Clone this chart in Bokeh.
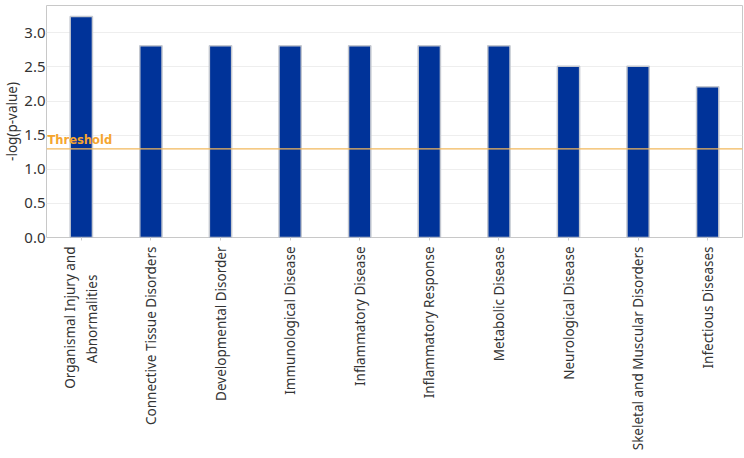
from bokeh.plotting import figure
from bokeh.models import ColumnDataSource, Span, Label, SingleIntervalTicker, Range1d, PrintfTickFormatter
from bokeh.embed import file_html
from bokeh.resources import INLINE

categories = [
    "Organismal Injury and\nAbnormalities" + "\u00a0" * 8,
    "Connective Tissue Disorders",
    "Developmental Disorder",
    "Immunological Disease",
    "Inflammatory Disease",
    "Inflammatory Response",
    "Metabolic Disease",
    "Neurological Disease",
    "Skeletal and Muscular Disorders",
    "Infectious Diseases",
]
values = [3.24, 2.81, 2.81, 2.81, 2.81, 2.81, 2.81, 2.51, 2.51, 2.21]
threshold = 1.3

FONT = "Noto Sans"

src = ColumnDataSource(dict(cat=categories, val=values))

p = figure(
    x_range=categories,
    y_range=Range1d(0, 3.4),
    frame_width=696, frame_height=232,
    output_backend="svg", toolbar_location=None,
    min_border_left=0, min_border_right=3, min_border_top=5, min_border_bottom=0,
    background_fill_color="white", border_fill_color="white",
)
p.vbar(x="cat", top="val", width=0.32, source=src,
       fill_color="#003399", line_color="#c4c8d0", line_width=1.5)

p.add_layout(Span(location=threshold, dimension="width", line_color="#f2b85c", line_width=1.2))
p.add_layout(Label(x=0, y=threshold, x_units="screen", y_units="data", x_offset=1, y_offset=2,
                   text="Threshold", text_color="#f5a52f", text_font_size="11.5px",
                   text_font_style="bold", text_font="DejaVu Sans"))

p.outline_line_color = "#c8c8c8"
p.outline_line_width = 1

p.yaxis.ticker = SingleIntervalTicker(interval=0.5)
p.yaxis.formatter = PrintfTickFormatter(format="%.1f")
p.yaxis.axis_label = "-log(p-value)"
p.yaxis.axis_label_text_font = FONT
p.yaxis.axis_label_text_font_style = "normal"
p.yaxis.axis_label_text_font_size = "13.5px"
p.yaxis.axis_label_text_color = "#333333"
p.yaxis.axis_label_standoff = 0
p.yaxis.major_label_text_font = FONT
p.yaxis.major_label_text_font_size = "15px"
p.yaxis.major_label_text_color = "#333333"
p.yaxis.major_tick_line_color = None
p.yaxis.minor_tick_line_color = None
p.yaxis.major_tick_out = 0
p.yaxis.major_tick_in = 0
p.yaxis.minor_tick_out = 0
p.yaxis.axis_line_color = None
p.yaxis.major_label_standoff = 1

p.xaxis.major_label_orientation = 1.5708
p.xaxis.major_label_text_font = FONT
p.xaxis.major_label_text_font_size = "13.5px"
p.xaxis.major_label_text_color = "#333333"
p.xaxis.major_label_standoff = 6
p.xaxis.axis_line_color = None
p.xaxis.major_tick_line_color = "#cccccc"
p.xaxis.major_tick_in = 0
p.xaxis.major_tick_out = 3

p.xgrid.grid_line_color = None
p.ygrid.grid_line_color = "#eeeeee"
p.ygrid.grid_line_width = 1

open("out.html", "w").write(file_html(p, INLINE))
